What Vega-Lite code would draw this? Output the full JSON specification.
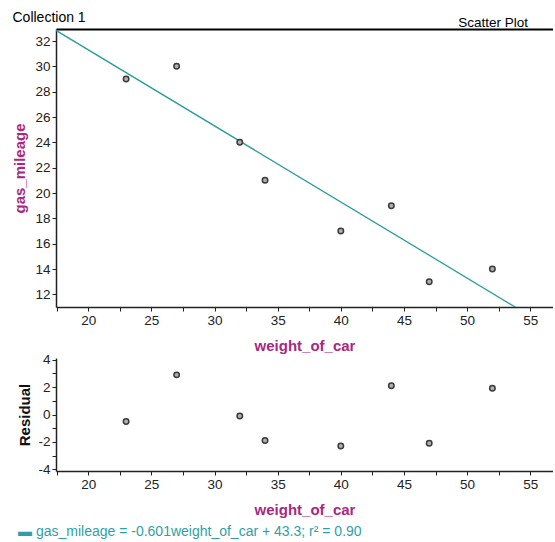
{
  "$schema": "https://vega.github.io/schema/vega-lite/v6.json",
  "padding": {"left": 12, "top": 10, "right": 0, "bottom": 0},
  "background": "white",
  "spacing": -2,
  "config": {
    "view": {"stroke": null},
    "font": "Liberation Sans",
    "axis": {
      "labelFont": "Liberation Sans", "labelFontSize": 13.5, "labelColor": "#222",
      "tickColor": "#222", "domainColor": "#222", "domainWidth": 1.5, "tickSize": 4,
      "grid": false, "titleFont": "Liberation Sans", "titleFontSize": 15,
      "titleFontWeight": "bold", "labelOverlap": false, "tickCount": 50
    }
  },
  "datasets": {
    "cars": [
      {"weight_of_car": 23, "gas_mileage": 29, "residual": -0.51},
      {"weight_of_car": 27, "gas_mileage": 30, "residual": 2.89},
      {"weight_of_car": 32, "gas_mileage": 24, "residual": -0.11},
      {"weight_of_car": 34, "gas_mileage": 21, "residual": -1.9},
      {"weight_of_car": 40, "gas_mileage": 17, "residual": -2.3},
      {"weight_of_car": 44, "gas_mileage": 19, "residual": 2.1},
      {"weight_of_car": 47, "gas_mileage": 13, "residual": -2.09},
      {"weight_of_car": 52, "gas_mileage": 14, "residual": 1.91}
    ],
    "fit": [
      {"weight_of_car": 17.45, "gas_mileage": 32.84},
      {"weight_of_car": 56.8, "gas_mileage": 9.2}
    ]
  },
  "vconcat": [
    {
      "width": 497,
      "height": 278,
      "title": {"text": "Scatter Plot", "anchor": "end", "orient": "top", "frame": "group", "fontSize": 13.5, "fontWeight": "normal", "color": "#000", "offset": -19, "dx": -25},
      "resolve": {"axis": {"x": "independent"}},
      "layer": [
        {
          "data": {"name": "fit"},
          "mark": {"type": "line", "color": "#2a9d9b", "strokeWidth": 1.3, "clip": true},
          "encoding": {
            "x": {"field": "weight_of_car", "type": "quantitative",
              "scale": {"domain": [17.45, 56.8], "nice": false, "zero": false},
              "axis": {"values": [17.5, 20, 22.5, 25, 27.5, 30, 32.5, 35, 37.5, 40, 42.5, 45, 47.5, 50, 52.5, 55],
                "labelExpr": "datum.value % 5 === 0 ? format(datum.value, 'd') : ''", "labelOverlap": false, "tickCount": 50,
                "title": "weight_of_car", "titleColor": "#a8287f", "titlePadding": 12}},
            "y": {"field": "gas_mileage", "type": "quantitative",
              "scale": {"domain": [11.0, 32.95], "nice": false, "zero": false},
              "axis": {"values": [12, 14, 16, 18, 20, 22, 24, 26, 28, 30, 32], "labelOverlap": false, "tickCount": 50,
                "format": "d",
                "title": "gas_mileage", "titleColor": "#a8287f", "titlePadding": 7}}
          }
        },
        {
          "data": {"name": "cars"},
          "mark": {"type": "point", "shape": "circle", "filled": true, "size": 30, "color": "#b0b0b0", "stroke": "#3a3a3a", "strokeWidth": 1.5, "opacity": 1},
          "encoding": {
            "x": {"field": "weight_of_car", "type": "quantitative",
              "axis": {"orient": "top", "labels": false, "ticks": false, "domain": true, "domainWidth": 2, "domainColor": "#000",
                "title": "Collection 1", "titleAnchor": "start", "titleAlign": "left", "titleX": -44,
                "titleFontWeight": "normal", "titleFontSize": 14, "titleColor": "#000", "titlePadding": 5}},
            "y": {"field": "gas_mileage", "type": "quantitative"}
          }
        }
      ]
    },
    {
      "width": 497,
      "height": 113,
      "title": {"text": "▬ gas_mileage = -0.601weight_of_car + 43.3; r² = 0.90", "orient": "bottom", "anchor": "start", "frame": "bounds", "color": "#2e9fa5", "fontSize": 14, "fontWeight": "normal", "font": "Liberation Sans", "offset": 7},
      "layer": [
        {
          "mark": {"type": "rule", "color": "#aaaaaa", "strokeWidth": 1.5},
          "encoding": {"y": {"datum": 0}}
        },
        {
          "data": {"name": "cars"},
          "mark": {"type": "point", "shape": "circle", "filled": true, "size": 30, "color": "#b0b0b0", "stroke": "#3a3a3a", "strokeWidth": 1.5, "opacity": 1},
          "encoding": {
            "x": {"field": "weight_of_car", "type": "quantitative",
              "scale": {"domain": [17.45, 56.8], "nice": false, "zero": false},
              "axis": {"values": [17.5, 20, 22.5, 25, 27.5, 30, 32.5, 35, 37.5, 40, 42.5, 45, 47.5, 50, 52.5, 55],
                "labelExpr": "datum.value % 5 === 0 ? format(datum.value, 'd') : ''", "labelOverlap": false, "tickCount": 50,
                "title": "weight_of_car", "titleColor": "#a8287f", "titlePadding": 12}},
            "y": {"field": "residual", "type": "quantitative",
              "scale": {"domain": [-4.12, 4.12], "nice": false, "zero": false},
              "axis": {"values": [-4, -3, -2, -1, 0, 1, 2, 3, 4], "labelOverlap": false, "tickCount": 50,
                "labelExpr": "datum.value % 2 === 0 ? replace(format(datum.value, 'd'), '−', '-') : ''",
                "title": "Residual", "titleColor": "#111", "titlePadding": 5}}
          }
        }
      ]
    }
  ]
}
